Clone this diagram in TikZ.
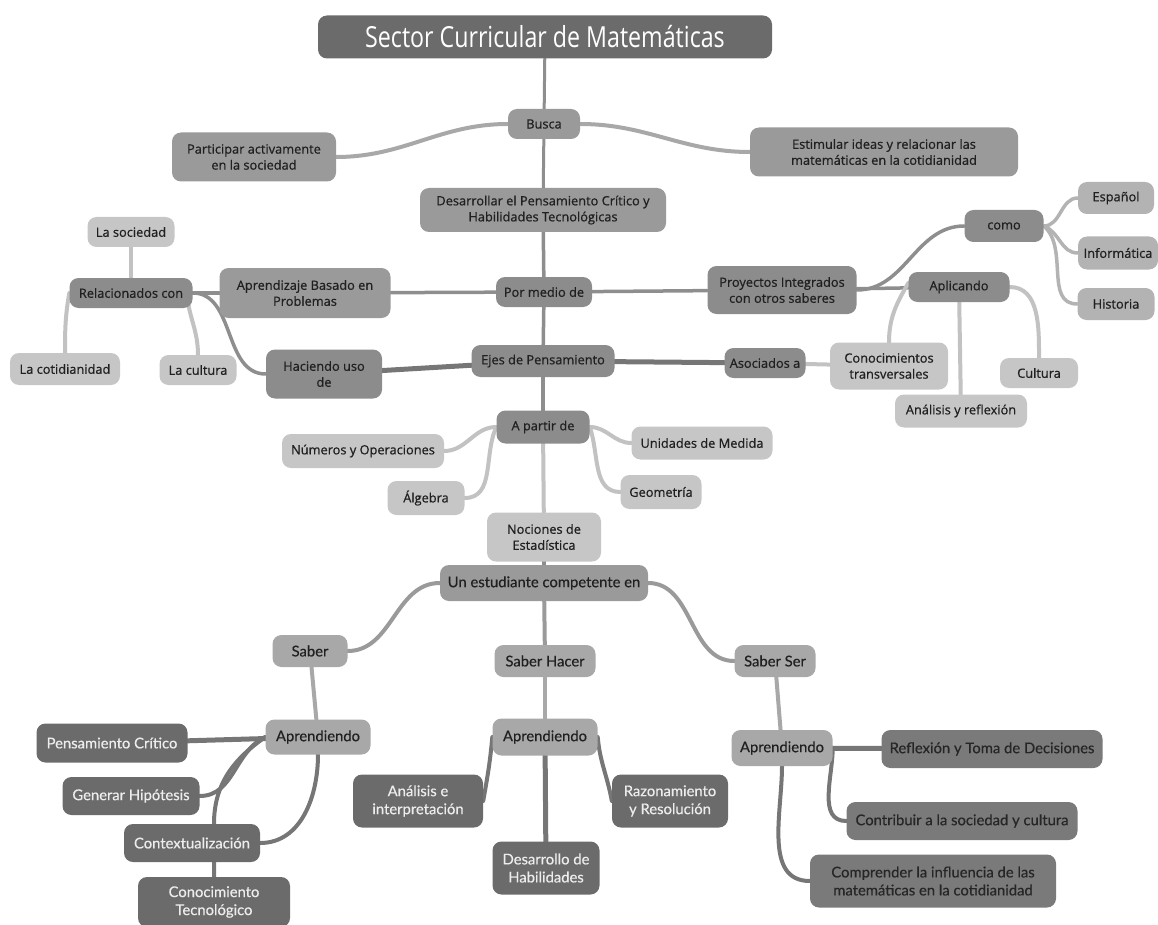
\documentclass[tikz,border=0pt]{standalone}
\usepackage{fontspec}
\usetikzlibrary{backgrounds}
\newfontfamily\osans[FakeBold=0.7]{Open Sans}
\newfontfamily\latof[FakeBold=0.4]{Lato}
\newfontfamily\titlef[FakeStretch=0.8]{Open Sans}
\definecolor{cdark}{HTML}{6B6B6B}
\definecolor{cdarkb}{HTML}{7A7A7A}
\definecolor{cmed}{HTML}{9A9A9A}
\definecolor{cmedd}{HTML}{8C8C8C}
\definecolor{clight}{HTML}{C6C6C6}
\definecolor{clightm}{HTML}{B3B3B3}
\definecolor{csab}{HTML}{A8A8A8}
\definecolor{ctext}{HTML}{202020}
\definecolor{lnmed}{HTML}{8E8E8E}
\definecolor{lnlight}{HTML}{C2C2C2}
\definecolor{lndark}{HTML}{767676}
\tikzset{
  box/.style={rounded corners=9pt, inner sep=2pt, align=center, text=ctext,
    font=\osans\fontsize{12.8}{16}\selectfont},
  lbox/.style={box, font=\latof\fontsize{14.8}{18}\selectfont},
  med/.style={box, fill=cmed},
  medd/.style={box, fill=cmedd},
  lig/.style={box, fill=clight},
  ligm/.style={box, fill=clightm},
  sab/.style={lbox, fill=csab},
  drk/.style={lbox, fill=cdark, text=white!93!black},
  drkb/.style={lbox, fill=cdarkb, text=black!85},
  sz/.style 2 args={minimum width=#1pt, minimum height=#2pt},
  ln/.style={draw=lnmed, line width=3.5pt, line cap=round},
  lnl/.style={draw=lnlight, line width=4pt, line cap=round},
  lnm/.style={draw=clightm, line width=3.5pt, line cap=round},
  lnd/.style={draw=lndark, line width=5pt, line cap=round},
  lns/.style={draw=csab, line width=4pt, line cap=round},
}
\begin{document}
\begin{tikzpicture}[x=1pt, y=-1pt]
\useasboundingbox (0,0) rectangle (1158,925);
% top
\node[box, fill=cdark, text=white, sz={454}{43}, font=\titlef\fontsize{29}{32}\selectfont] (title) at (545,37) {Sector Curricular de Matemáticas};
\node[med, sz={72}{30}] (busca) at (544,124) {Busca};
\node[med, sz={164}{49}] (part) at (254,157) {Participar activamente\\en la sociedad};
\node[med, sz={268}{49}] (estim) at (884,152) {Estimular ideas y relacionar las\\matemáticas en la cotidianidad};
\node[med, sz={246}{44}] (desa) at (543,210) {Desarrollar el Pensamiento Crítico y\\Habilidades Tecnológicas};
\node[medd, sz={96}{30}] (pormedio) at (544,292) {Por medio de};
\node[med, sz={171}{50}] (aprend) at (305,293) {Aprendizaje Basado en\\Problemas};
\node[medd, sz={123}{30}] (relac) at (131,293) {Relacionados con};
\node[lig, sz={87}{30}] (soc) at (131,232) {La sociedad};
\node[lig, sz={110}{32}] (coti) at (65,369) {La cotidianidad};
\node[lig, sz={77}{30}] (cult) at (198,370) {La cultura};
\node[medd, sz={116}{49}] (haci) at (324,374) {Haciendo uso\\de};
\node[medd, sz={143}{32}] (ejes) at (543,361) {Ejes de Pensamiento};
\node[medd, sz={81}{30}] (asoc) at (765,363) {Asociados a};
\node[lig, sz={118}{47}] (conoc) at (889,366) {Conocimientos\\transversales};
\node[lig, sz={78}{30}] (cultura) at (1039,373) {Cultura};
\node[lig, sz={132}{33}] (analref) at (961,411) {Análisis y reflexión};
\node[medd, sz={101}{30}] (aplic) at (959,287) {Aplicando};
\node[medd, sz={149}{48}] (proy) at (782,290) {Proyectos Integrados\\con otros saberes};
\node[medd, sz={79}{32}] (como) at (1004,226) {como};
\node[ligm, sz={76}{32}] (esp) at (1116,198) {Español};
\node[ligm, sz={80}{33}] (inf) at (1118,253) {Informática};
\node[ligm, sz={77}{32}] (hist) at (1116,304) {Historia};
% middle
\node[medd, sz={93}{33}] (apartir) at (543,427) {A partir de};
\node[lig, sz={162}{34}] (num) at (363,451) {Números y Operaciones};
\node[lig, sz={77}{34}] (alg) at (426,498) {Álgebra};
\node[lig, sz={141}{33}] (uni) at (702,443) {Unidades de Medida};
\node[lig, sz={81}{34}] (geo) at (661,492) {Geometría};
\node[lig, sz={114}{49}] (noc) at (544,537) {Nociones de\\Estadística};
% bottom
\node[lbox, fill=cmed, sz={208}{36}] (unest) at (544,583) {Un estudiante competente en};
\node[sab, sz={75}{32}] (saber) at (310,651) {Saber};
\node[sab, sz={101}{32}] (saberh) at (545,661) {Saber Hacer};
\node[sab, sz={81}{32}] (saberser) at (775,661) {Saber Ser};
\node[sab, sz={105}{35}] (apL) at (318,737) {Aprendiendo};
\node[sab, sz={105}{37}] (apM) at (545,737) {Aprendiendo};
\node[sab, sz={101}{36}] (apR) at (782,748) {Aprendiendo};
\node[drk, sz={151}{39}] (pens) at (112,743) {Pensamiento Crítico};
\node[drk, sz={137}{38}] (gen) at (131,796) {Generar Hipótesis};
\node[drk, sz={136}{38}] (cont) at (192,843) {Contextualización};
\node[drk, sz={152}{50}] (cono) at (214,902) {Conocimiento\\Tecnológico};
\node[drk, sz={130}{53}] (anaint) at (418,801) {Análisis e\\interpretación};
\node[drk, sz={107}{53}] (desh) at (546,868) {Desarrollo de\\Habilidades};
\node[drk, sz={116}{53}] (razo) at (670,801) {Razonamiento\\y Resolución};
\node[drkb, sz={221}{38}] (refl) at (992,749) {Reflexión y Toma de Decisiones};
\node[drkb, sz={231}{38}] (contr) at (962,821) {Contribuir a la sociedad y cultura};
\node[drkb, sz={246}{53}] (compr) at (933,881) {Comprender la influencia de las\\matemáticas en la cotidianidad};

\begin{scope}[on background layer]
\draw[ln, line width=3pt] (title) -- (busca);
\draw[lnl, draw=csab] (busca.west) to[out=180,in=0] (part.east);
\draw[lnl, draw=csab] (busca.east) to[out=0,in=180] (estim.west);
\draw[ln, line width=3pt] (busca) -- (desa);
\draw[ln] (desa) -- (pormedio);
\draw[ln] (pormedio) -- (aprend);
\draw[ln] (pormedio) -- (proy);
\draw[ln] (pormedio) -- (ejes);
\draw[ln] (aprend) -- (relac);
\draw[lnl] (relac) -- (soc);
\draw[lnl] (relac.west) to[out=260,in=90] (coti.north);
\draw[lnl] ([xshift=-6pt]relac.east) to[out=-85,in=90] (cult.north);
\draw[ln] (relac.east) to[out=0,in=180] (haci.west);
\draw[lnd] (haci) -- (ejes);
\draw[lnd] (ejes) -- (asoc);
\draw[lnl] (asoc) -- (conoc);
\draw[ln] (proy.east) to[out=0,in=180] (como.west);
\draw[ln] (proy) -- (aplic);
\draw[lnm] (como.east) to[out=0,in=180] (esp.west);
\draw[lnm] (como.east) to[out=-20,in=180] (inf.west);
\draw[lnm] (como.east) to[out=-40,in=180] (hist.west);
\draw[lnl] ([yshift=4pt]aplic.west) to[out=240,in=90] (conoc.north);
\draw[lnl] (aplic) -- (analref);
\draw[lnl] (aplic.east) to[out=0,in=90] (cultura.north);
\draw[ln] (ejes) -- (apartir);
\draw[lnl] (apartir.west) to[out=180,in=0] (num.east);
\draw[lnl] (apartir.west) to[out=245,in=0] (alg.east);
\draw[lnl] (apartir.east) to[out=0,in=180] (uni.west);
\draw[lnl] (apartir.east) to[out=-70,in=180] (geo.west);
\draw[lnl] (apartir) -- (noc);
\draw[ln] (noc) -- (unest);
\draw[lns, draw=cmed] (unest.west) to[out=180,in=0] (saber.east);
\draw[lns, draw=cmed] (unest) -- (saberh);
\draw[lns, draw=cmed] (unest.east) to[out=0,in=180] (saberser.west);
\draw[lns] (saber) -- (apL);
\draw[lns] (saberh) -- (apM);
\draw[lns] (saberser) -- (apR);
\draw[lnd] (apL) -- (pens);
\draw[lnd, line width=4pt] (apL.west) to[out=205,in=0] (gen.east);
\draw[lnd, line width=4pt] (apL.west) to[out=215,in=90] (cont.north -| cono.north) -- (cono.north);
\draw[lnd, line width=4pt] (apL.south) to[out=-90,in=0] (cont.east);
\draw[lnd, line width=4pt] (apM.west) to[out=-95,in=80] (anaint.east);
\draw[lnd] (apM) -- (desh);
\draw[lnd, line width=4pt] (apM.east) to[out=-85,in=100] (razo.west);
\draw[lnd] (apR) -- (refl);
\draw[lnd, line width=4pt] (apR.east) to[out=-90,in=180] (contr.west);
\draw[lnd, line width=4pt] (apR.south) to[out=-90,in=180] (compr.west);
\end{scope}
\end{tikzpicture}
\end{document}
